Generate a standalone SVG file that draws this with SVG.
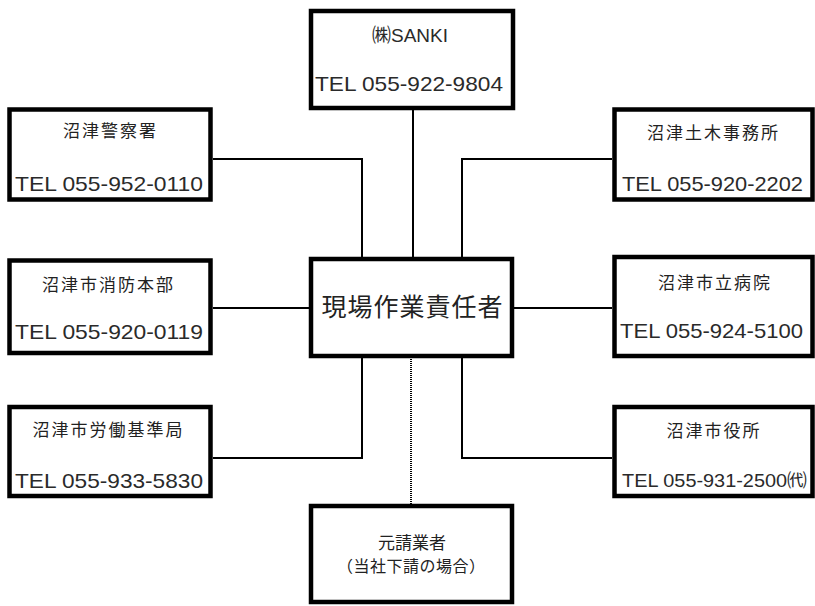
<svg xmlns="http://www.w3.org/2000/svg" width="815" height="606" viewBox="0 0 815 606">
<style>
.box{fill:#fff;stroke:#000;stroke-width:4.5}
.ln{fill:none;stroke:#000;stroke-width:2}
.dot{fill:none;stroke:#000;stroke-width:2;stroke-dasharray:1 1}
.jp{font-family:"Noto Sans CJK JP",sans-serif;font-size:17px;letter-spacing:2px;fill:#222;text-anchor:middle}
.tel{font-family:"Liberation Sans","Noto Sans CJK JP",sans-serif;font-size:21px;fill:#2a2a2a;text-anchor:middle}
</style>
<rect width="815" height="606" fill="#fff"/>
<g id="connectors">
<line class="ln" x1="413" y1="110" x2="413" y2="259"/>
<polyline class="ln" points="213,159 362,159 362,259"/>
<polyline class="ln" points="612,159 462,159 462,259"/>
<line class="ln" x1="213" y1="308" x2="311" y2="308"/>
<line class="ln" x1="512" y1="308" x2="612" y2="308"/>
<polyline class="ln" points="213,458 362,458 362,356"/>
<polyline class="ln" points="612,458 462,458 462,356"/>
<line class="dot" x1="411" y1="357" x2="411" y2="505"/>
</g>
<g id="sanki">
<rect class="box" x="311" y="11" width="202" height="97"/>
<text class="tel" x="410" y="42" style="font-size:19px">㈱SANKI</text>
<text class="tel" x="409" y="91" textLength="188" lengthAdjust="spacingAndGlyphs">TEL 055-922-9804</text>
</g>
<g id="police">
<rect class="box" x="9.5" y="109.5" width="201" height="90"/>
<text class="jp" x="110.5" y="137">沼津警察署</text>
<text class="tel" x="109" y="191" textLength="188" lengthAdjust="spacingAndGlyphs">TEL 055-952-0110</text>
</g>
<g id="doboku">
<rect class="box" x="614.5" y="109.5" width="198" height="90"/>
<text class="jp" x="713.5" y="139">沼津土木事務所</text>
<text class="tel" x="712.5" y="191" textLength="181" lengthAdjust="spacingAndGlyphs">TEL 055-920-2202</text>
</g>
<g id="center">
<rect class="box" x="311" y="259" width="201" height="97"/>
<text class="jp" x="412.5" y="316" style="font-size:25px;letter-spacing:1px">現場作業責任者</text>
</g>
<g id="fire">
<rect class="box" x="9.5" y="260.5" width="201" height="92.5"/>
<text class="jp" x="108.5" y="291">沼津市消防本部</text>
<text class="tel" x="109" y="339" textLength="188" lengthAdjust="spacingAndGlyphs">TEL 055-920-0119</text>
</g>
<g id="hospital">
<rect class="box" x="614.5" y="257" width="198" height="99"/>
<text class="jp" x="715" y="289">沼津市立病院</text>
<text class="tel" x="711.5" y="338" textLength="183" lengthAdjust="spacingAndGlyphs">TEL 055-924-5100</text>
</g>
<g id="labor">
<rect class="box" x="9.5" y="407" width="201" height="89"/>
<text class="jp" x="108.5" y="436">沼津市労働基準局</text>
<text class="tel" x="109" y="488" textLength="188" lengthAdjust="spacingAndGlyphs">TEL 055-933-5830</text>
</g>
<g id="cityhall">
<rect class="box" x="614.5" y="407" width="198" height="89"/>
<text class="jp" x="714" y="437">沼津市役所</text>
<text class="tel" x="714.5" y="487" style="font-size:18px" textLength="185" lengthAdjust="spacingAndGlyphs">TEL 055-931-2500㈹</text>
</g>
<g id="prime">
<rect class="box" x="311" y="506" width="201" height="96"/>
<text class="jp" x="412" y="549" style="letter-spacing:0">元請業者</text>
<text class="jp" x="411" y="572" style="font-size:16px;letter-spacing:0" textLength="148" lengthAdjust="spacing">（当社下請の場合）</text>
</g>
</svg>
